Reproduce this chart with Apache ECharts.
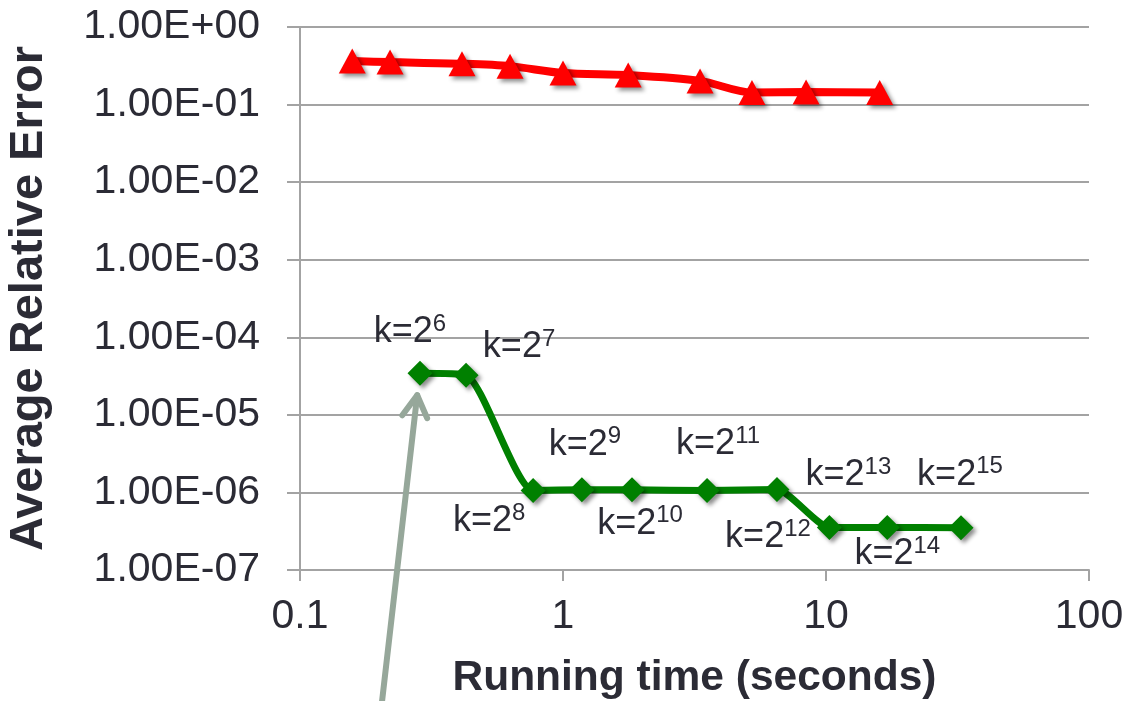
<!DOCTYPE html>
<html>
<head>
<meta charset="utf-8">
<script src="https://cdn.jsdelivr.net/npm/echarts@6/dist/echarts.min.js"></script>
<style>
  html, body { margin: 0; padding: 0; background: #ffffff; }
  #chart { width: 1126px; height: 701px; }
</style>
</head>
<body>
<div id="chart"></div>
<script>
// Running time (seconds) vs. average relative error, log–log
const redTime  = [0.158, 0.22, 0.413, 0.629, 1.0, 1.77, 3.32, 5.23, 8.4, 16.0];
const redError = [0.364, 0.353, 0.336, 0.313, 0.255, 0.24, 0.202, 0.143, 0.145, 0.143];

const greenTime  = [0.286, 0.428, 0.77, 1.18, 1.83, 3.53, 6.51, 10.3, 17.1, 32.6];
const greenError = [3.43e-5, 3.24e-5, 1.06e-6, 1.08e-6, 1.08e-6, 1.06e-6, 1.09e-6, 3.54e-7, 3.54e-7, 3.5e-7];

// k = 2^n for each green point
const kExponents = [6, 7, 8, 9, 10, 11, 12, 13, 14, 15];

// tick labels, indexed by decade exponent
const xTickLabels = { '-1': '0.1', '0': '1', '1': '10', '2': '100' };
const yTickLabels = {
  '0': '1.00E+00', '-1': '1.00E-01', '-2': '1.00E-02', '-3': '1.00E-03',
  '-4': '1.00E-04', '-5': '1.00E-05', '-6': '1.00E-06', '-7': '1.00E-07'
};

// annotation arrow (data space): tail below the axis, head near k=2^6
const arrowTail = [0.205, 2.0e-9];
const arrowHead = [0.279, 1.79e-5];

// where each k label sits, pixel offset of its centre from the point
const kLabelOffsets = [
  [-10, -41], [53, -28], [-44, 31], [3, -45], [8, 34],
  [11, -46], [-9, 48], [19, -52], [10, 27], [-1, -53]
];

const FONT = '"Liberation Sans", Arial, Helvetica, sans-serif';
const TEXT = '#2b2b35';
const GRID = '#a3a3a3';
const DIAMOND = 25;

const chart = echarts.init(document.getElementById('chart'));

const decade = v => String(Math.round(Math.log10(v)));

const redData = redTime.map((t, i) => [t, redError[i]]);
const greenData = greenTime.map((t, i) => ({
  value: [t, greenError[i]],
  label: {
    formatter: '{b|k=2}{s|' + kExponents[i] + '}',
    // position is measured from the symbol's top-left corner
    position: [DIAMOND / 2 + kLabelOffsets[i][0], DIAMOND / 2 + kLabelOffsets[i][1]]
  }
}));

const markerShadow = {
  shadowColor: 'rgba(0,0,0,0.45)',
  shadowBlur: 4,
  shadowOffsetX: 3,
  shadowOffsetY: 3
};

chart.setOption({
  animation: false,
  backgroundColor: '#ffffff',
  textStyle: { fontFamily: FONT },
  grid: { left: 300, right: 37, top: 27, bottom: 131, containLabel: false, outerBoundsMode: 'none' },
  xAxis: {
    type: 'log',
    logBase: 10,
    min: 0.1,
    max: 100,
    interval: 1,
    name: 'Running time (seconds)',
    nameLocation: 'middle',
    nameGap: 87,
    nameTextStyle: { fontFamily: FONT, fontSize: 42.5, fontWeight: 'bold', color: TEXT },
    axisLine: { show: true, lineStyle: { color: GRID, width: 2 } },
    axisTick: { show: true, length: 11, lineStyle: { color: GRID, width: 2 } },
    minorTick: { show: false },
    splitLine: { show: false },
    axisLabel: {
      margin: 26,
      fontFamily: FONT,
      fontSize: 41,
      color: TEXT,
      formatter: v => xTickLabels[decade(v)] || ''
    }
  },
  yAxis: {
    type: 'log',
    logBase: 10,
    min: 1e-7,
    max: 1,
    interval: 1,
    name: 'Average Relative Error',
    nameLocation: 'middle',
    nameGap: 247,
    nameTextStyle: { fontFamily: FONT, fontSize: 47, fontWeight: 'bold', color: TEXT },
    axisLine: { show: true, lineStyle: { color: GRID, width: 2 } },
    axisTick: { show: true, length: 13, lineStyle: { color: GRID, width: 2 } },
    minorTick: { show: false },
    splitLine: { show: true, lineStyle: { color: GRID, width: 2 } },
    axisLabel: {
      margin: 40,
      fontFamily: FONT,
      fontSize: 41,
      color: TEXT,
      formatter: v => yTickLabels[decade(v)] || ''
    }
  },
  series: [
    {
      name: 'baseline',
      type: 'line',
      data: redData,
      smooth: 0.3,
      symbol: 'triangle',
      symbolSize: [27, 25],
      showSymbol: true,
      lineStyle: { color: '#ff0000', width: 8 },
      itemStyle: Object.assign({ color: '#ff0000' }, markerShadow),
      z: 3
    },
    {
      name: 'sketch',
      type: 'line',
      data: greenData,
      smooth: 0.2,
      symbol: 'diamond',
      symbolSize: [DIAMOND, DIAMOND],
      showSymbol: true,
      lineStyle: { color: '#008000', width: 7 },
      itemStyle: Object.assign({ color: '#008000' }, markerShadow),
      label: {
        show: true,
        align: 'center',
        verticalAlign: 'middle',
        fontFamily: FONT,
        color: TEXT,
        rich: {
          b: { fontFamily: FONT, fontSize: 36, color: TEXT, lineHeight: 40 },
          s: { fontFamily: FONT, fontSize: 24, color: TEXT, lineHeight: 24, verticalAlign: 'top' }
        }
      },
      labelLayout: { hideOverlap: false },
      z: 4
    }
  ]
});

// gray annotation arrow with an open chevron head
function drawArrow() {
  const p0 = chart.convertToPixel({ gridIndex: 0 }, arrowTail);
  const p1 = chart.convertToPixel({ gridIndex: 0 }, arrowHead);
  const dx = p1[0] - p0[0], dy = p1[1] - p0[1];
  const len = Math.hypot(dx, dy);
  const ux = dx / len, uy = dy / len;
  const arm = 25, ang = 30 * Math.PI / 180;
  const rot = (a) => [
    p1[0] - arm * (ux * Math.cos(a) - uy * Math.sin(a)),
    p1[1] - arm * (ux * Math.sin(a) + uy * Math.cos(a))
  ];
  const left = rot(ang), right = rot(-ang);
  const style = { stroke: '#96a79a', lineWidth: 6, lineCap: 'round', lineJoin: 'round', fill: null };
  chart.setOption({
    graphic: [
      { type: 'line', shape: { x1: p0[0], y1: p0[1], x2: p1[0], y2: p1[1] }, style: style, z: 2 },
      { type: 'polyline', shape: { points: [left, p1, right] }, style: style, z: 2 }
    ]
  });
}
drawArrow();
</script>
</body>
</html>
